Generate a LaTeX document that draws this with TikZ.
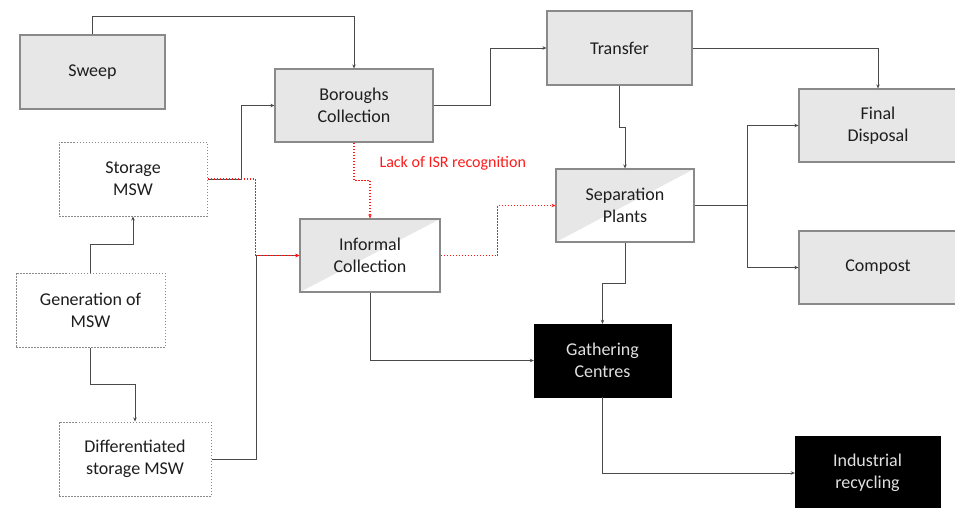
\documentclass[tikz,border=0pt]{standalone}
\usepackage{fontspec}
\setmainfont{Carlito}
\usepackage{tikz}
\usetikzlibrary{arrows.meta, calc}

\definecolor{boxgray}{HTML}{E7E7E7}
\definecolor{edgegray}{HTML}{8A8A8A}
\definecolor{linegray}{HTML}{4A4A4A}
\definecolor{textgray}{HTML}{1E1E1E}
\definecolor{isrred}{HTML}{FF1A1A}

\begin{document}
\begin{tikzpicture}[
    x=1pt, y=-1pt,
    font=\fontsize{18}{22}\selectfont,
    stage/.style={rectangle, minimum width=145pt, minimum height=74pt, align=center, text=textgray, draw=edgegray, line width=1.2pt, fill=boxgray},
    source/.style={rectangle, minimum width=148pt, minimum height=74pt, align=center, text=textgray, draw=edgegray, line width=1pt, dash pattern=on 1.5pt off 1.5pt, fill=white},
    halfbox/.style={stage, fill=white, path picture={\fill[boxgray] (path picture bounding box.north west) -- (path picture bounding box.north east) -- (path picture bounding box.south west) -- cycle;}},
    sink/.style={rectangle, minimum width=137pt, minimum height=73pt, align=center, text=white!88!black, draw=black, fill=black},
    arrow/.style={draw=linegray, line width=1pt, -{Stealth[length=4pt,width=3.5pt]}},
    isr/.style={draw=isrred, line width=1.1pt, dash pattern=on 1.5pt off 1.5pt, -{Stealth[length=4pt,width=3.5pt]}}
]
\clip (0,0) rectangle (955,507);

\node (sweep) [stage] at (92.5,72) {Sweep};
\node (borough) [stage, minimum width=158pt, minimum height=73pt] at (354,105.5) {Boroughs\\Collection};
\node (storage) [source] at (133,179) {Storage\\MSW};
\node (informal) [halfbox, minimum width=140pt, minimum height=73pt] at (370,255.5) {Informal\\Collection};
\node (generation) [source, minimum width=149pt] at (90.5,310) {Generation of\\MSW};
\node (diffstorage) [source, minimum width=152pt] at (135,459) {Differentiated\\storage MSW};
\node (transfer) [stage] at (619.5,48) {Transfer};
\node (separation) [halfbox, minimum width=138pt, minimum height=73pt] at (625,205.5) {Separation\\Plants};
\node (disposal) [stage, minimum width=158pt, minimum height=73pt] at (878,125.5) {Final\\Disposal};
\node (compost) [stage, minimum width=158pt, minimum height=73pt] at (878,267.5) {Compost};
\node (gathering) [sink] at (602.5,360.5) {Gathering\\Centres};
\node (industrial) [sink, minimum width=145pt, minimum height=74pt] at (867.5,473) {Industrial\\recycling};

\node (isrlabel) [text=isrred, font=\fontsize{16}{19}\selectfont, anchor=west] at (376,163) {Lack of ISR recognition};

\draw [arrow] (sweep.north) -- ++(0,-18) -| (borough.north);
\draw [arrow] (storage.east) -- ++(34,0) |- (borough.west);
\draw [arrow] (generation.north) -- ++(0,-28) -| (storage.south);
\draw [arrow] (generation.south) -- ++(0,37) -| (diffstorage.north);
\draw [arrow] (diffstorage.east) -- ++(45,0) |- (informal.west);
\draw [isr] (storage.east) -- ++(48,0) |- (informal.west);
\draw [isr] (borough.south) -- ++(0,38) -| (informal.north);
\draw [isr] (informal.east) -- ++(57,0) |- (separation.west);
\draw [arrow] (borough.east) -- ++(57,0) |- (transfer.west);
\draw [arrow] (transfer.east) -| (disposal.north);
\draw [arrow] (transfer.south) -- ++(0,42) -| (separation.north);
\coordinate (fork) at ($(separation.east)+(53,0)$);
\draw [arrow] (separation.east) -- (fork) |- (disposal.west);
\draw [arrow] (fork) |- (compost.west);
\draw [arrow] (separation.south) -- ++(0,41) -| (gathering.north);
\draw [arrow] (informal.south) |- (gathering.west);
\draw [arrow] (gathering.south) |- (industrial.west);

\end{tikzpicture}
\end{document}
